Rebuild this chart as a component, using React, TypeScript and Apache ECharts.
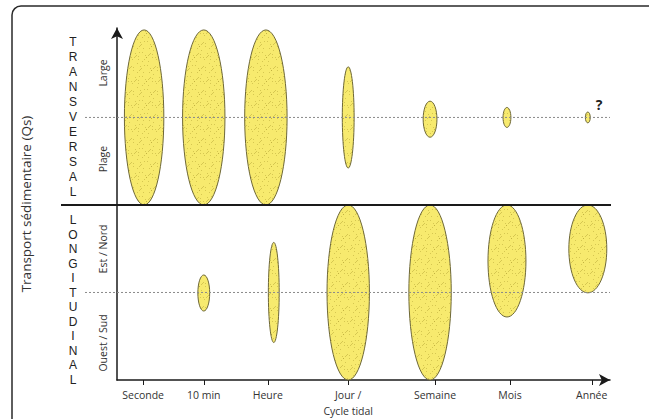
import React, { useEffect, useRef } from "react";
import * as echarts from "echarts";

const categories = ["Seconde", "10 min", "Heure", "Jour /\nCycle tidal", "Semaine", "Mois", "Année"];
const tickPositions = [0.53, 1.76, 3.06, 4.69, 6.45, 7.97, 9.63];

// Transversal zone ellipses (x position, center y, half-height, half-width)
const transX = [0.55, 1.76, 3.02, 4.69, 6.35, 7.91, 9.55];
const transY = [1.5, 1.5, 1.5, 1.5, 1.49, 1.5, 1.5];
const transHalfHeight = [0.5, 0.5, 0.5, 0.289, 0.103, 0.057, 0.031];
const transHalfWidth = [0.4, 0.43, 0.43, 0.12, 0.14, 0.08, 0.05];

// Longitudinal zone ellipses
const longX = [1.76, 3.18, 4.69, 6.35, 7.91, 9.55];
const longY = [0.497, 0.5, 0.5, 0.5, 0.68, 0.749];
const longHalfHeight = [0.103, 0.286, 0.5, 0.5, 0.32, 0.251];
const longHalfWidth = [0.12, 0.11, 0.43, 0.43, 0.385, 0.385];

// Reference lines: y value, solid (1) or dashed (0)
const guideY = [1.5, 1, 0.5];
const guideSolid = [0, 1, 0];

const sectionWords = ["TRANSVERSAL", "LONGITUDINAL"];
const sideLabels = ["Large", "Plage", "Est / Nord", "Ouest / Sud"];

const FONT = "Open Sans";
const LETTER_FONT = "Liberation Sans";

function makeStipple(): string | null {
  try {
    const size = 24;
    const cv = document.createElement("canvas");
    cv.width = size;
    cv.height = size;
    const ctx = cv.getContext("2d");
    if (!ctx) return null;
    ctx.fillStyle = "#f7ea6e";
    ctx.fillRect(0, 0, size, size);
    ctx.fillStyle = "rgba(170,150,40,0.42)";
    for (let i = 0; i < 40; i++) {
      const x = (i * 37 + 5) % size;
      const y = (i * 53 + ((i * i) % 7) * 3) % size;
      ctx.fillRect(x, y, 1, 1);
    }
    return cv.toDataURL();
  } catch (e) {
    return null;
  }
}

export default function App() {
  const ref = useRef<HTMLDivElement>(null);
  useEffect(() => {
    if (!ref.current) return;
    const chart = echarts.init(ref.current, null, { renderer: "svg" });
    const stipple = makeStipple();
    const fill: any = stipple ? { image: stipple, repeat: "repeat" } : "#f4e56a";
    const ellipseData = [
      ...transX.map((x, i) => [x, transY[i], transHalfHeight[i], transHalfWidth[i]]),
      ...longX.map((x, i) => [x, longY[i], longHalfHeight[i], longHalfWidth[i]]),
    ];
    const renderEllipse = (params: any, api: any) => {
      const c = api.coord([api.value(0), api.value(1)]);
      const s = api.size([api.value(3), api.value(2)]);
      return {
        type: "ellipse",
        shape: { cx: c[0], cy: c[1], rx: s[0], ry: s[1] },
        style: { fill, stroke: "#6e6838", lineWidth: 1 },
      };
    };
    const renderGuide = (params: any, api: any) => {
      const cs = params.coordSys;
      const p = api.coord([0, api.value(1)]);
      const solid = api.value(2) === 1;
      return {
        type: "line",
        shape: {
          x1: cs.x - (solid ? 56 : 32),
          y1: p[1],
          x2: cs.x + cs.width + (solid ? 1 : 0),
          y2: p[1],
        },
        style: solid
          ? { stroke: "#1a1a1a", lineWidth: 2 }
          : { stroke: "#8a8a8a", lineWidth: 1, lineDash: [2, 2] },
      };
    };

    const letterEls: any[] = [];
    const wordLayout = [
      { top: 42, step: 15 },
      { top: 220, step: 14.5 },
    ];
    sectionWords.forEach((w, wi) => {
      w.split("").forEach((ch, ci) => {
        letterEls.push({
          type: "text",
          x: 73,
          y: wordLayout[wi].top + ci * wordLayout[wi].step,
          style: {
            text: ch,
            fontSize: 12,
            fill: "#222",
            align: "center",
            verticalAlign: "middle",
            fontFamily: LETTER_FONT,
          },
        });
      });
    });
    const sideY = [73, 159, 249, 343];

    chart.setOption({
      animation: false,
      textStyle: { fontFamily: FONT },
      grid: { left: 117, right: 39, top: 28, bottom: 39 },
      xAxis: {
        type: "value",
        min: 0,
        max: 10,
        splitLine: { show: false },
        axisLine: {
          show: true,
          lineStyle: { color: "#1a1a1a", width: 1.5 },
          symbol: ["none", "arrow"],
          symbolSize: [9, 11],
        },
        axisTick: {
          show: true,
          customValues: tickPositions,
          length: 5,
          lineStyle: { color: "#1a1a1a", width: 1 },
        },
        axisLabel: {
          customValues: tickPositions,
          formatter: (v: number) => {
            const i = tickPositions.indexOf(v);
            return i >= 0 ? categories[i] : "";
          },
          color: "#333",
          fontSize: 10.5,
          lineHeight: 16,
          margin: 7,
          fontFamily: FONT,
        },
      },
      yAxis: {
        type: "value",
        min: 0,
        max: 2.011,
        name: "Transport sédimentaire (Qs)",
        nameLocation: "middle",
        nameRotate: 90,
        nameGap: 84,
        nameTextStyle: { color: "#333", fontSize: 13.5, fontFamily: FONT },
        splitLine: { show: false },
        axisTick: { show: false },
        axisLabel: { show: false },
        axisLine: {
          show: true,
          lineStyle: { color: "#1a1a1a", width: 1.5 },
          symbol: ["none", "arrow"],
          symbolSize: [9, 11],
        },
      },
      series: [
        {
          type: "custom",
          renderItem: renderEllipse,
          data: ellipseData,
          z: 2,
        },
        {
          type: "custom",
          renderItem: renderGuide,
          data: guideY.map((y, i) => [0, y, guideSolid[i]]),
          z: 3,
        },
      ],
      graphic: [
        {
          type: "rect",
          shape: { x: 12, y: 6, width: 660, height: 440, r: 9 },
          style: { fill: "none", stroke: "#2a2a2a", lineWidth: 1.5 },
          silent: true,
        },
        ...letterEls,
        ...sideLabels.map((t, i) => ({
          type: "text",
          x: 103,
          y: sideY[i],
          rotation: Math.PI / 2,
          style: {
            text: t,
            fontSize: 10.5,
            fill: "#333",
            align: "center",
            verticalAlign: "middle",
            fontFamily: FONT,
          },
        })),
        {
          type: "text",
          x: 599,
          y: 104,
          style: {
            text: "?",
            fontSize: 14,
            fontWeight: "bold",
            fill: "#222",
            align: "center",
            verticalAlign: "middle",
            fontFamily: FONT,
          },
        },
      ],
    });
    return () => chart.dispose();
  }, []);
  return (
    <div
      ref={ref}
      style={{ position: "fixed", left: 0, top: 0, width: 649, height: 419, background: "#fff" }}
    />
  );
}
